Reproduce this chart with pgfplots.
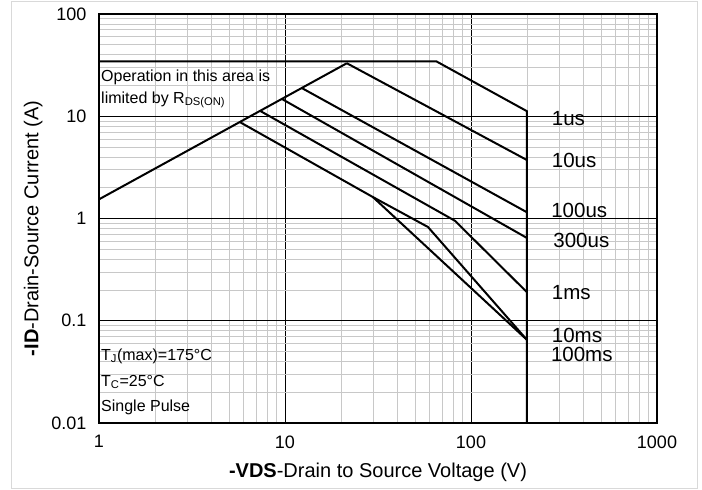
\documentclass[border=0pt]{standalone}
\usepackage{fontspec}
\setmainfont{Liberation Sans}
\usepackage{pgfplots}
\pgfplotsset{compat=1.18}
\definecolor{mgrid}{RGB}{200,200,200}
\definecolor{frameg}{RGB}{217,217,217}
\begin{document}
\begin{tikzpicture}
\useasboundingbox (0,0) rectangle (702pt,490pt);
\draw[frameg, line width=0.8pt] (11pt,1.5pt) rectangle (697.5pt,488.5pt);
\begin{axis}[
  at={(99pt,67pt)}, anchor=south west,
  scale only axis, width=558pt, height=409pt,
  xmode=log, ymode=log,
  xmin=1, xmax=1000, ymin=0.01, ymax=100,
  xtick={1,10,100,1000}, xticklabels={1,10,100,1000},
  ytick={0.01,0.1,1,10,100}, yticklabels={0.01,0.1,1,10,100},
  minor xtick={2,3,4,5,6,7,8,9,20,30,40,50,60,70,80,90,200,300,400,500,600,700,800,900},
  minor ytick={0.02,0.03,0.04,0.05,0.06,0.07,0.08,0.09,0.2,0.3,0.4,0.5,0.6,0.7,0.8,0.9,2,3,4,5,6,7,8,9,20,30,40,50,60,70,80,90},
  major tick length=0pt, minor tick length=0pt,
  grid=both,
  major grid style={black, line width=0.8pt},
  minor grid style={mgrid, line width=0.8pt},
  axis line style={black, line width=2pt},
  tick label style={font=\fontsize{18}{18}\selectfont},
  xticklabel style={yshift=-9pt},
  yticklabel style={xshift=-9pt},
  xlabel={\textbf{-VDS}-Drain to Source Voltage (V)},
  ylabel={\textbf{-ID}-Drain-Source Current (A)},
  label style={font=\fontsize{20}{20}\selectfont},
  x label style={at={(axis description cs:0.5,-0.12)}, anchor=center},
  y label style={at={(axis description cs:-0.118,0.476)}, anchor=center},
  clip=false,
  cycle list={{black, solid, line width=2pt}},
]
% R_DS(on) limit
\addplot[black, line width=2pt] coordinates {(1,1.54) (21.5,33)};
% current / power limit (1us) and voltage limit
\addplot[black, line width=2pt] coordinates {(1,34.5) (65,34.5) (200,11.2) (200,0.01)};
% 10us
\addplot[black, line width=2pt] coordinates {(21.5,33) (200,3.73)};
% 100us
\addplot[black, line width=2pt] coordinates {(12.3,18.9) (200,1.15)};
% 300us
\addplot[black, line width=2pt] coordinates {(9.6,14.8) (200,0.645)};
% 1ms
\addplot[black, line width=2pt] coordinates {(7.34,11.3) (82,0.95) (200,0.19)};
% 10ms
\addplot[black, line width=2pt] coordinates {(5.7,8.8) (29.7,1.62) (58.7,0.826) (200,0.065)};
% 100ms
\addplot[black, line width=2pt] coordinates {(29.7,1.62) (200,0.065)};

\begin{scope}[every node/.style={anchor=west, inner sep=2pt, font=\fontsize{20.5}{20.5}\selectfont}]
\node at (axis cs:265,9.6) {1us};
\node at (axis cs:265,3.73) {10us};
\node at (axis cs:263,1.21) {100us};
\node at (axis cs:270,0.617) {300us};
\node at (axis cs:265,0.187) {1ms};
\node at (axis cs:265,0.0725) {10ms};
\node at (axis cs:262,0.0464) {100ms};
\end{scope}
\begin{scope}[every node/.style={anchor=west, inner sep=2pt, font=\fontsize{16}{16}\selectfont}]
\node at (axis cs:1,24.2) {Operation in this area is};
\node at (axis cs:1,14.4) {limited by R\textsubscript{DS(ON)}};
\node at (axis cs:1,0.0453) {T\textsubscript{J}(max)=175°C};
\node at (axis cs:1,0.0252) {T\textsubscript{C}=25°C};
\node at (axis cs:1,0.0141) {Single Pulse};
\end{scope}
\end{axis}
\end{tikzpicture}
\end{document}
